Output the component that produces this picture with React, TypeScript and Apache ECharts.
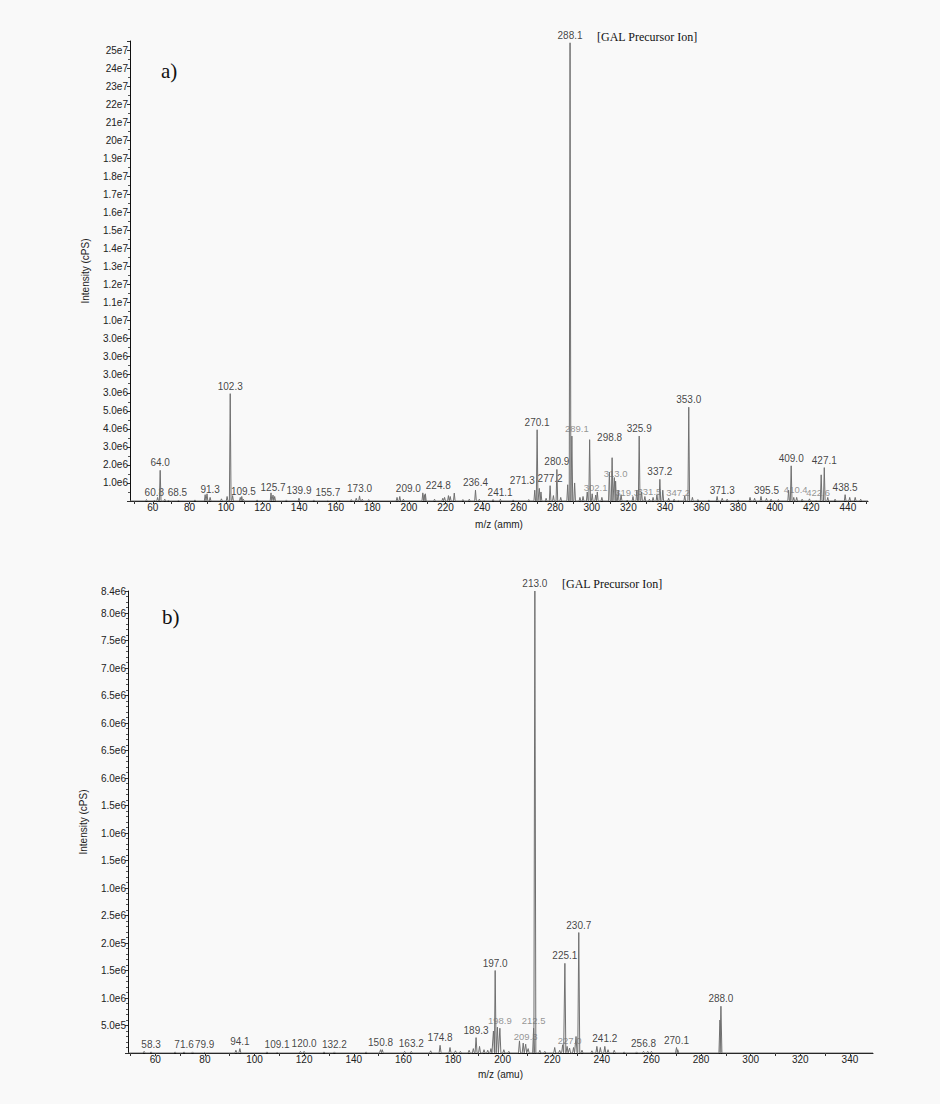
import React, { useEffect, useRef } from "react";
import * as echarts from "echarts";

// ---------- Panel a) data (intensity in units of 1e6 cps) ----------
const A_LABELLED_MZ = [60.8, 64.0, 68.5, 91.3, 102.3, 109.5, 125.7, 139.9, 155.7, 173.0, 209.0, 224.8, 236.4, 241.1, 270.1, 271.3, 277.2, 280.9, 288.1, 289.1, 298.8, 302.1, 313.0, 319.3, 325.9, 331.5, 337.2, 347.2, 353.0, 371.3, 395.5, 409.0, 410.4, 422.6, 427.1, 438.5];
const A_LABELLED_INT = [0.05, 1.7, 0.05, 0.2, 5.95, 0.1, 0.33, 0.15, 0.03, 0.28, 0.4, 0.44, 0.6, 0.03, 3.95, 0.7, 0.85, 1.75, 25.4, 3.6, 3.4, 0.33, 1.1, 0.05, 3.6, 0.1, 1.2, 0.03, 5.2, 0.15, 0.15, 1.95, 0.2, 0.03, 1.85, 0.35];
const A_GRAY = [289.1, 302.1, 313.0, 319.3, 331.5, 347.2, 410.4, 422.6];
const A_OTHER_MZ = [56.5, 62.6, 66.5, 74, 83, 88.6, 89.6, 97.5, 100.6, 103.6, 107.8, 108.6, 117, 124.6, 126.6, 133, 148, 162, 168.5, 171.2, 174.5, 178, 193.5, 195, 197, 207.6, 208.4, 214, 218.5, 219.5, 221.6, 222.6, 229.5, 233, 238.5, 246, 250, 257, 265.5, 268.8, 272.2, 275, 279, 283, 286.8, 290.6, 293.5, 295.2, 297.5, 300.2, 303, 305.5, 309.6, 311.1, 312.3, 314.4, 316, 322.5, 324.6, 327.2, 329, 333.5, 335.6, 338.8, 342, 345, 350.8, 355, 358, 364, 368.5, 374, 380, 386.5, 389, 392.5, 398, 402, 407.6, 412, 415, 419, 425.4, 429, 433, 441, 444, 447];
const A_OTHER_INT = [0.08, 0.2, 0.1, 0.05, 0.06, 0.35, 0.4, 0.12, 0.25, 0.3, 0.2, 0.25, 0.06, 0.45, 0.25, 0.06, 0.06, 0.05, 0.08, 0.15, 0.1, 0.08, 0.2, 0.25, 0.1, 0.45, 0.35, 0.1, 0.15, 0.2, 0.3, 0.25, 0.08, 0.1, 0.1, 0.08, 0.1, 0.06, 0.08, 0.6, 0.5, 0.15, 0.3, 0.2, 0.9, 1.0, 0.2, 0.25, 0.5, 0.4, 0.5, 0.2, 1.6, 2.4, 1.3, 0.6, 0.35, 0.25, 0.6, 0.5, 0.25, 0.2, 0.35, 0.6, 0.15, 0.1, 0.3, 0.2, 0.08, 0.06, 0.25, 0.1, 0.06, 0.2, 0.15, 0.25, 0.1, 0.08, 0.6, 0.2, 0.1, 0.12, 1.45, 0.2, 0.1, 0.2, 0.2, 0.1];
const A_X_LABELS = [60, 80, 100, 120, 140, 160, 180, 200, 220, 240, 260, 280, 300, 320, 340, 360, 380, 400, 420, 440];
const A_Y_LABELS = ["", "1.0e6", "2.0e6", "3.0e6", "4.0e6", "5.0e6", "3.0e6", "3.0e6", "3.0e6", "3.0e6", "1.0e7", "1.1e7", "1.2e7", "1.3e7", "1.4e7", "1.5e7", "1.6e7", "1.7e7", "1.8e7", "1.9e7", "20e7", "21e7", "22e7", "23e7", "24e7", "25e7"];

// ---------- Panel b) data (intensity in units of 1e6 cps) ----------
const B_LABELLED_MZ = [58.3, 71.6, 79.9, 94.1, 109.1, 120.0, 132.2, 150.8, 163.2, 174.8, 189.3, 197.0, 198.9, 209.3, 212.5, 213.0, 225.1, 227.0, 230.7, 241.2, 256.8, 270.1, 288.0];
const B_LABELLED_INT = [0.02, 0.02, 0.01, 0.08, 0.01, 0.03, 0.02, 0.06, 0.03, 0.14, 0.28, 1.5, 0.45, 0.16, 0.45, 8.4, 1.63, 0.09, 2.19, 0.12, 0.03, 0.1, 0.85];
const B_GRAY = [198.9, 209.3, 212.5, 227.0];
const B_OTHER_MZ = [55.5, 68, 75, 92.5, 105, 118.5, 128, 145, 151.5, 160.5, 171, 178.8, 181, 183, 186.5, 188.2, 190.7, 192.5, 194, 195.3, 196.3, 197.9, 200.5, 202.5, 206.8, 208.3, 210.3, 215, 217, 221, 223, 224.2, 226, 228.6, 229.6, 232, 236, 238, 239.4, 242.5, 245, 249, 254, 258.5, 260, 270.6, 287.6];
const B_OTHER_INT = [0.03, 0.02, 0.02, 0.05, 0.02, 0.03, 0.02, 0.02, 0.06, 0.03, 0.04, 0.1, 0.04, 0.03, 0.05, 0.08, 0.12, 0.06, 0.05, 0.08, 0.4, 0.47, 0.06, 0.03, 0.22, 0.18, 0.08, 0.05, 0.03, 0.1, 0.05, 0.15, 0.12, 0.1, 0.3, 0.05, 0.04, 0.12, 0.1, 0.06, 0.05, 0.02, 0.02, 0.03, 0.03, 0.06, 0.6];
const B_X_LABELS = [60, 80, 100, 120, 140, 160, 180, 200, 220, 240, 260, 280, 300, 320, 340];
const B_Y_LABELS = ["", "5.0e5", "1.0e6", "1.5e6", "2.0e5", "2.5e6", "1.0e6", "1.5e6", "1.0e6", "1.5e6", "6.0e6", "6.5e6", "6.0e6", "6.5e6", "7.0e6", "7.5e6", "8.0e6"];
const B_Y_TOP_LABEL = "8.4e6";

// ---------- layout / style ----------
const A_MIN = 47.5, A_MAX = 451, A_YMAX = 25.5;
const B_MIN = 49, B_MAX = 349.3, B_YMAX = 8.4;
const PEAK_HALF_WIDTH_A = 0.45;
const PEAK_HALF_WIDTH_B = 0.4;
const LABEL_NUDGE: Record<string, [number, number]> = {
  "a68.5": [9, 0],
  "a209.0": [-17, 2],
  "a224.8": [-16, 0],
  "a241.1": [16, 0],
  "a271.3": [-17, 0],
  "a298.8": [20, 5],
  "a289.1": [5, 0],
  "a410.4": [2, 0],
  "a422.6": [2, 0],
};
const SANS = "'Liberation Sans', Arial, sans-serif";
const SERIF = "'Liberation Serif', 'Times New Roman', serif";
const LINE_COLOR = "#707070";

function buildProfile(mz: number[], h: number[], w: number, min: number, max: number) {
  const pairs = mz.map((m, i) => [m, h[i]]).sort((p, q) => p[0] - q[0]);
  const out: number[][] = [[min, 0]];
  for (const [m, v] of pairs) {
    out.push([m - w, 0], [m, v], [m + w, 0]);
  }
  out.push([max, 0]);
  return out;
}

function buildLabels(prefix: string, mz: number[], h: number[], gray: number[]) {
  return mz.map((m, i) => {
    const isGray = gray.includes(m);
    const nudge = LABEL_NUDGE[prefix + m.toFixed(1)] || [0, 0];
    return {
      value: [m, h[i]],
      label: {
        show: true,
        position: "top",
        distance: 2,
        formatter: m.toFixed(1),
        color: isGray ? "#7a7a7a" : "#111",
        fontSize: isGray ? 9.5 : 10,
        fontFamily: SANS,
        offset: nudge,
      },
    };
  });
}

function ticksEvery(step: number, from: number, to: number) {
  const t: number[] = [];
  for (let v = from; v <= to + 1e-9; v += step) t.push(v);
  return t;
}

export default function App() {
  const ref = useRef<HTMLDivElement>(null);
  useEffect(() => {
    if (!ref.current) return;
    const chart = echarts.init(ref.current, undefined, { renderer: "svg" });
    const axisLine = { show: true, lineStyle: { color: "#111", width: 1 } };
    const option: any = {
      animation: false,
      backgroundColor: "#f9f9f9",
      textStyle: { fontFamily: SANS },
      grid: [
        { left: 130, top: 41, width: 738, height: 460 },
        { left: 128, top: 591, width: 745, height: 462 },
      ],
      xAxis: [
        {
          type: "value", gridIndex: 0, min: A_MIN, max: A_MAX,
          name: "m/z (amm)", nameLocation: "middle", nameGap: 18,
          nameTextStyle: { fontSize: 10, color: "#222", fontFamily: SANS },
          axisLine,
          axisTick: { show: true, customValues: ticksEvery(10, 50, 450), length: 3, lineStyle: { color: "#333" } },
          axisLabel: { customValues: A_X_LABELS, fontSize: 10, color: "#222", margin: 1, fontFamily: SANS },
          splitLine: { show: false },
        },
        {
          type: "value", gridIndex: 1, min: B_MIN, max: B_MAX,
          name: "m/z (amu)", nameLocation: "middle", nameGap: 16,
          nameTextStyle: { fontSize: 10, color: "#222", fontFamily: SANS },
          axisLine,
          axisTick: { show: true, customValues: ticksEvery(10, 50, 340), length: 3, lineStyle: { color: "#333" } },
          axisLabel: { customValues: B_X_LABELS, fontSize: 10, color: "#222", margin: 1, fontFamily: SANS },
          splitLine: { show: false },
        },
      ],
      yAxis: [
        {
          type: "value", gridIndex: 0, min: 0, max: A_YMAX, interval: 1,
          name: "Intensity (cPS)", nameLocation: "middle", nameGap: 40, nameRotate: 90,
          nameTextStyle: { fontSize: 10, color: "#222", fontFamily: SANS },
          axisLine,
          axisTick: { show: true, length: 3, lineStyle: { color: "#333" } },
          minorTick: { show: true, splitNumber: 2, length: 2, lineStyle: { color: "#555" } },
          axisLabel: {
            fontSize: 10, color: "#222", margin: 2, fontFamily: SANS,
            formatter: (v: number) => {
              const r = Math.round(v);
              if (Math.abs(v - r) > 1e-6) return "";
              return A_Y_LABELS[r] ?? "";
            },
          },
          splitLine: { show: false },
        },
        {
          type: "value", gridIndex: 1, min: 0, max: B_YMAX, interval: 0.5,
          name: "Intensity (cPS)", nameLocation: "middle", nameGap: 40, nameRotate: 90,
          nameTextStyle: { fontSize: 10, color: "#222", fontFamily: SANS },
          axisLine,
          axisTick: { show: true, length: 3, lineStyle: { color: "#333" } },
          minorTick: { show: true, splitNumber: 5, length: 2, lineStyle: { color: "#555" } },
          axisLabel: {
            fontSize: 10, color: "#222", margin: 2, fontFamily: SANS,
            formatter: (v: number) => {
              if (Math.abs(v - B_YMAX) < 1e-6) return B_Y_TOP_LABEL;
              const r = Math.round(v * 2);
              if (Math.abs(v * 2 - r) > 1e-6) return "";
              return B_Y_LABELS[r] ?? "";
            },
          },
          splitLine: { show: false },
        },
      ],
      series: [
        {
          type: "line", xAxisIndex: 0, yAxisIndex: 0, showSymbol: false, symbol: "none",
          lineStyle: { color: LINE_COLOR, width: 1 }, silent: true,
          data: buildProfile(A_LABELLED_MZ.concat(A_OTHER_MZ), A_LABELLED_INT.concat(A_OTHER_INT), PEAK_HALF_WIDTH_A, A_MIN, A_MAX),
        },
        {
          type: "scatter", xAxisIndex: 0, yAxisIndex: 0, symbolSize: 1, silent: true,
          itemStyle: { color: "rgba(0,0,0,0)" },
          data: buildLabels("a", A_LABELLED_MZ, A_LABELLED_INT, A_GRAY),
        },
        {
          type: "line", xAxisIndex: 1, yAxisIndex: 1, showSymbol: false, symbol: "none",
          lineStyle: { color: LINE_COLOR, width: 1 }, silent: true,
          data: buildProfile(B_LABELLED_MZ.concat(B_OTHER_MZ), B_LABELLED_INT.concat(B_OTHER_INT), PEAK_HALF_WIDTH_B, B_MIN, B_MAX),
        },
        {
          type: "scatter", xAxisIndex: 1, yAxisIndex: 1, symbolSize: 1, silent: true,
          itemStyle: { color: "rgba(0,0,0,0)" },
          data: buildLabels("b", B_LABELLED_MZ, B_LABELLED_INT, B_GRAY),
        },
      ],
      graphic: [
        { type: "text", left: 161, top: 60, style: { text: "a)", font: `21px ${SERIF}`, fill: "#111" } },
        { type: "text", left: 162, top: 606, style: { text: "b)", font: `21px ${SERIF}`, fill: "#111" } },
        { type: "text", left: 597, top: 31, style: { text: "[GAL Precursor Ion]", font: `12px ${SERIF}`, fill: "#111" } },
        { type: "text", left: 562, top: 578, style: { text: "[GAL Precursor Ion]", font: `12px ${SERIF}`, fill: "#111" } },
      ],
    };
    chart.setOption(option);
    return () => chart.dispose();
  }, []);
  return (
    <div
      ref={ref}
      style={{ position: "absolute", left: 0, top: 0, width: 940, height: 1104 }}
    />
  );
}
